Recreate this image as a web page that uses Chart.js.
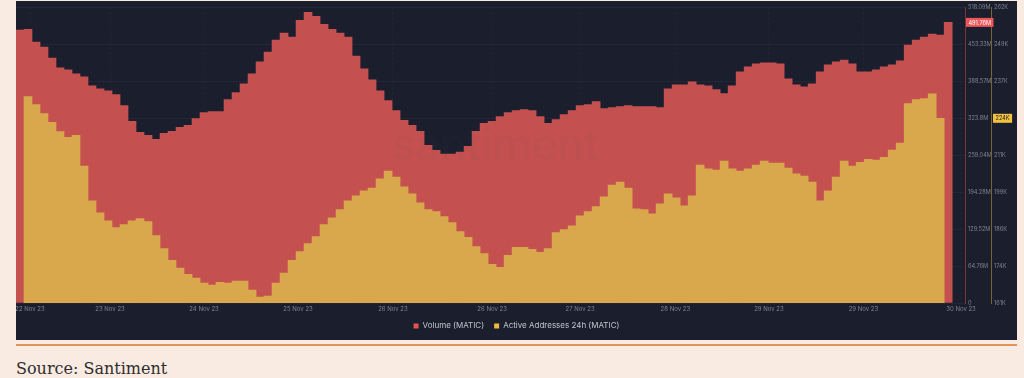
<!DOCTYPE html>
<html>
<head>
<meta charset="utf-8">
<script src="https://cdn.jsdelivr.net/npm/chart.js@4.4.0/dist/chart.umd.min.js"></script>
<style>
  html, body { margin: 0; padding: 0; }
  body { width: 1024px; height: 378px; background: #f9ebe1; position: relative; overflow: hidden; }
  #panel { position: absolute; left: 16px; top: 1px; width: 1001px; height: 339px; background: #1b1e2d; }
  #rule { position: absolute; left: 16px; top: 344px; width: 1001px; height: 2px; background: #e0935a; }
  #source { position: absolute; left: 16px; top: 361px; font: 16px/16px "DejaVu Serif", serif; color: #2e2e2e; }
</style>
</head>
<body>
<div id="panel"><canvas id="chart"></canvas></div>
<div id="rule"></div>
<div id="source">Source: Santiment</div>
<script>
// volume in millions of MATIC, one bar per ~2h
const volume = [
  478.1, 479.8, 457.2, 448.5, 429.4, 412.0, 408.6, 401.6, 396.4, 380.7,
  375.5, 372.0, 365.1, 346.0, 318.2, 299.0, 293.8, 286.9, 297.3, 300.8,
  307.7, 311.2, 323.4, 333.8, 335.5, 335.5, 356.4, 368.6, 384.2, 401.6,
  422.5, 439.9, 460.7, 472.9, 465.9, 495.5, 509.4, 502.4, 488.5, 479.8,
  472.9, 465.9, 432.9, 410.3, 391.2, 372.0, 354.7, 337.3, 319.9, 311.2,
  300.8, 276.4, 267.7, 260.8, 260.8, 264.3, 274.7, 300.8, 314.7, 318.2,
  326.9, 333.8, 337.3, 339.0, 337.3, 326.9, 314.7, 321.6, 330.3, 337.3,
  346.0, 347.7, 352.9, 340.8, 342.5, 344.2, 346.0, 344.2, 344.2, 344.2,
  342.5, 375.5, 382.5, 382.5, 387.7, 382.5, 380.7, 373.8, 366.8, 380.7,
  405.1, 413.8, 419.0, 420.7, 420.7, 419.0, 392.9, 382.5, 379.0, 384.2,
  405.1, 417.3, 422.5, 425.9, 419.0, 405.1, 405.1, 408.6, 413.8, 417.3,
  424.2, 452.0, 460.7, 465.9, 471.1, 469.4, 491.76
]

// active addresses 24h, thousands
const activeAddresses = [
  null, 231.5, 228.8, 225.7, 222.7, 219.6, 217.6, 218.3, 207.8, 195.9,
  191.8, 189.1, 186.8, 187.8, 189.1, 189.8, 188.8, 184.0, 179.6, 175.6,
  172.9, 170.8, 169.5, 167.8, 167.1, 168.1, 167.8, 168.5, 168.5, 165.4,
  163.0, 163.4, 167.8, 171.2, 175.6, 178.6, 181.3, 183.7, 187.8, 190.1,
  192.9, 195.9, 197.6, 199.3, 200.3, 203.4, 206.1, 204.0, 200.7, 198.3,
  195.2, 192.9, 192.2, 190.5, 188.5, 185.4, 183.4, 180.3, 177.9, 174.2,
  173.2, 177.3, 180.0, 180.0, 179.3, 178.3, 179.6, 185.1, 186.1, 187.4,
  190.8, 192.2, 193.9, 197.3, 201.3, 202.3, 200.3, 193.2, 192.9, 191.5,
  194.9, 198.3, 196.9, 194.2, 197.6, 208.1, 206.8, 206.4, 209.5, 206.8,
  206.1, 206.8, 208.1, 209.5, 208.8, 208.8, 207.1, 205.1, 204.4, 202.3,
  195.9, 199.3, 204.0, 209.5, 207.8, 209.1, 210.1, 209.8, 210.8, 213.2,
  215.6, 229.1, 230.5, 230.8, 232.5, 224.1, null
]

const dateTicks = ['22 Nov 23', '23 Nov 23', '24 Nov 23', '25 Nov 23', '26 Nov 23', '26 Nov 23',
                   '27 Nov 23', '28 Nov 23', '29 Nov 23', '29 Nov 23', '30 Nov 23']
const dateTickPos = [1.25, 11.25, 23, 34.75, 46.6, 59, 70, 81.9, 93.6, 105.4, 117.6]

const volTicks = [0, 64.76, 129.52, 194.28, 259.04, 323.8, 388.57, 453.33, 518.09]
const volTickLabels = ['0', '64.76M', '129.52M', '194.28M', '259.04M', '323.8M', '388.57M', '453.33M', '518.09M']
const aaTicks = [161, 173.6, 186.3, 198.9, 211.5, 224.1, 236.8, 249.4, 262]
const aaTickLabels = ['161K', '174K', '186K', '199K', '211K', '224K', '237K', '249K', '262K']

const seriesNames = ['Volume (MATIC)', 'Active Addresses 24h (MATIC)']

const RED = '#c4514f'
const YELLOW = '#d9a84c'
const legendColors = ['#e4544f', '#f1b83d']
const tickColor = '#7f8491'
const tickFont = { family: 'Inter', size: 5.6 }

function drawBadge(ctx, x, y, text, bg, fg) {
  ctx.save()
  ctx.font = '5.6px Inter'
  const w = ctx.measureText(text).width + 5
  ctx.fillStyle = bg
  ctx.fillRect(x, y - 4.5, w, 9)
  ctx.fillStyle = fg
  ctx.textBaseline = 'middle'
  ctx.fillText(text, x + 2.5, y + 0.5)
  ctx.restore()
}

const badges = {
  id: 'badges',
  afterDraw(chart) {
    const ctx = chart.ctx
    const vs = chart.scales.yVol
    const as = chart.scales.yAA
    const lastVol = volume[volume.length - 1]
    const lastAA = activeAddresses.filter(v => v !== null).pop()
    drawBadge(ctx, vs.left + 1, vs.getPixelForValue(lastVol), lastVol.toFixed(2) + 'M', '#ee5558', '#ffffff')
    drawBadge(ctx, as.left + 2, as.getPixelForValue(lastAA), Math.round(lastAA) + 'K', '#f2c13e', '#1b1e2d')
  }
}

// faint brand mark in the middle
const watermark = {
  id: 'watermark',
  afterDatasetsDraw(chart) {
    const ctx = chart.ctx
    const a = chart.chartArea
    ctx.save()
    ctx.font = '500 44px Inter'
    ctx.fillStyle = 'rgba(70, 70, 95, 0.05)'
    ctx.textAlign = 'center'
    ctx.textBaseline = 'middle'
    ctx.fillText('santiment', a.left + a.width * 0.505, a.top + a.height * 0.47)
    ctx.restore()
  }
}

const ctx = document.getElementById('chart').getContext('2d')

new Chart(ctx, {
  type: 'bar',
  data: {
    labels: volume.map((v, i) => i),
    datasets: [{
      label: seriesNames[0],
      data: volume,
      yAxisID: 'yVol',
      backgroundColor: RED,
      borderWidth: 0,
      barPercentage: 1,
      categoryPercentage: 1,
      grouped: false,
      order: 1
    }, {
      label: seriesNames[1],
      data: activeAddresses,
      yAxisID: 'yAA',
      backgroundColor: YELLOW,
      borderWidth: 0,
      barPercentage: 1,
      categoryPercentage: 1,
      grouped: false,
      order: 0
    }]
  },
  options: {
    responsive: true,
    maintainAspectRatio: false,
    animation: false,
    layout: { padding: { top: 4, left: 0, right: 0, bottom: 0 } },
    plugins: {
      tooltip: { enabled: false },
      legend: {
        position: 'bottom',
        labels: {
          boxWidth: 5,
          boxHeight: 5,
          padding: 10,
          color: '#c3c6ce',
          font: { family: 'Inter', size: 8 },
          sort: (a, b) => a.datasetIndex - b.datasetIndex,
          generateLabels(chart) {
            const items = Chart.defaults.plugins.legend.labels.generateLabels(chart)
            items.forEach(it => {
              it.fillStyle = legendColors[it.datasetIndex]
              it.strokeStyle = legendColors[it.datasetIndex]
              it.lineWidth = 0
            })
            return items
          }
        }
      }
    },
    scales: {
      x: {
        type: 'linear',
        offset: false,
        min: -0.5,
        max: 118.1,
        afterBuildTicks: s => { s.ticks = dateTickPos.map(v => ({ value: v })) },
        afterFit: s => { s.height = 9; s.paddingLeft = 0; s.paddingRight = 0 },
        ticks: {
          autoSkip: false,
          maxRotation: 0,
          padding: 3,
          color: tickColor,
          font: { family: 'Inter', size: 6 },
          callback: (v, i) => dateTicks[i]
        },
        grid: { offset: false, color: 'rgba(255,255,255,0.04)', drawTicks: false },
        border: { display: false, dash: [2, 3] }
      },
      yVol: {
        position: 'right',
        min: 0,
        max: 518.09,
        afterBuildTicks: s => { s.ticks = volTicks.map(v => ({ value: v })) },
        afterFit: s => { s.width = 26 },
        ticks: {
          padding: 3,
          color: tickColor,
          font: tickFont,
          callback: (v, i) => volTickLabels[i]
        },
        grid: { color: 'rgba(255,255,255,0.04)', drawTicks: false },
        border: { display: true, color: '#7a3539', width: 1 }
      },
      yAA: {
        position: 'right',
        min: 161,
        max: 262,
        afterBuildTicks: s => { s.ticks = aaTicks.map(v => ({ value: v })) },
        afterFit: s => { s.width = 26 },
        ticks: {
          padding: 3,
          color: tickColor,
          font: tickFont,
          callback: (v, i) => aaTickLabels[i]
        },
        grid: { display: false, drawTicks: false },
        border: { display: true, color: '#7a6436', width: 1 }
      }
    }
  },
  plugins: [badges, watermark]
})
</script>
</body>
</html>
